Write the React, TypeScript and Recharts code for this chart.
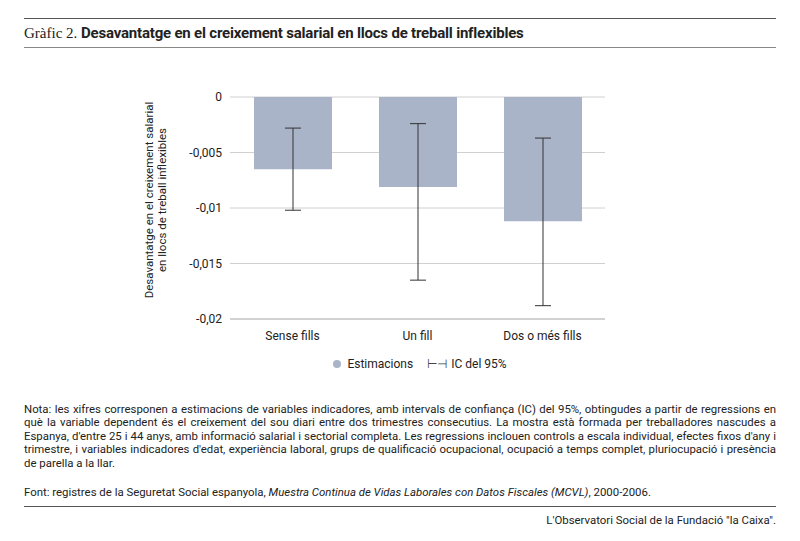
import React from "react";
import { BarChart, Bar, XAxis, YAxis, CartesianGrid, ErrorBar } from "recharts";

const categories = ["Sense fills", "Un fill", "Dos o més fills"];
const estimates = [-0.0065, -0.0081, -0.0112];
const ciLow = [-0.0102, -0.0165, -0.0188];
const ciHigh = [-0.0028, -0.0024, -0.0037];
const yTicks = [0, -0.005, -0.01, -0.015, -0.02];

const data = categories.map((c, i) => ({
  name: c,
  value: estimates[i],
  err: [estimates[i] - ciLow[i], ciHigh[i] - estimates[i]],
}));

const font = "Roboto, 'Liberation Sans', sans-serif";
const fmt = (v: number) => (v === 0 ? "0" : String(v).replace(".", ","));

const YLabel = () => (
  <text transform="translate(160,200) rotate(-90)" textAnchor="middle" fontSize={11.5} fill="#222" fontFamily={font}>
    <tspan x={0} dy={-7}>Desavantatge en el creixement salarial</tspan>
    <tspan x={0} dy={13}>en llocs de treball inflexibles</tspan>
  </text>
);

const App: React.FC = () => (
  <div style={{ position: "absolute", left: 0, top: 0, width: 800, height: 541, background: "#fff", fontFamily: font, color: "#222" }}>
    <div style={{ position: "absolute", left: 24, right: 24, top: 18, borderTop: "1.5px solid #555" }} />
    <div style={{ position: "absolute", left: 24, top: 24, fontSize: 15, whiteSpace: "nowrap" }}>
      <span style={{ fontFamily: "'Liberation Serif', serif" }}>Gràfic 2. </span>
      <b style={{ letterSpacing: -0.2 }}>Desavantatge en el creixement salarial en llocs de treball inflexibles</b>
    </div>
    <div style={{ position: "absolute", left: 24, right: 24, top: 47, borderTop: "1px solid #888" }} />
    <div style={{ position: "absolute", left: 0, top: 0 }}>
      <BarChart width={800} height={350} data={data} margin={{ top: 97, right: 195, bottom: 1, left: 0 }} barSize={78}>
        <CartesianGrid vertical={false} stroke="#d0d0d0" />
        <XAxis dataKey="name" axisLine={{ stroke: "#bbb" }} tickLine={false} tick={{ fontSize: 12, fill: "#222", fontFamily: font }} height={30} tickMargin={6} />
        <YAxis width={230} domain={[-0.02, 0]} ticks={yTicks} tickFormatter={fmt} axisLine={false} tickLine={false} tick={{ fontSize: 12, fill: "#222", fontFamily: font }} label={<YLabel />} />
        <Bar dataKey="value" fill="#aab4c8" isAnimationActive={false}>
          <ErrorBar dataKey="err" width={8} stroke="#333" strokeWidth={1} />
        </Bar>
      </BarChart>
    </div>
    <div style={{ position: "absolute", left: 0, width: 800, top: 357, display: "flex", justifyContent: "center", fontSize: 12, gap: 14, paddingLeft: 20 }}>
      <span><span style={{ display: "inline-block", width: 8, height: 8, borderRadius: 4, background: "#aab4c8", marginRight: 6 }} />Estimacions</span>
      <span><span style={{ color: "#444", marginRight: 4 }}>⊢⊣</span>IC del 95%</span>
    </div>
    <div style={{ position: "absolute", left: 24, right: 24, top: 403, fontSize: 11.4, lineHeight: "13.4px", textAlign: "justify" }}>
      Nota: les xifres corresponen a estimacions de variables indicadores, amb intervals de confiança (IC) del 95%, obtingudes a partir de regressions en què la variable dependent és el creixement del sou diari entre dos trimestres consecutius. La mostra està formada per treballadores nascudes a Espanya, d'entre 25 i 44 anys, amb informació salarial i sectorial completa. Les regressions inclouen controls a escala individual, efectes fixos d'any i trimestre, i variables indicadores d'edat, experiència laboral, grups de qualificació ocupacional, ocupació a temps complet, pluriocupació i presència de parella a la llar.
    </div>
    <div style={{ position: "absolute", left: 24, top: 485, fontSize: 11.4 }}>
      Font: registres de la Seguretat Social espanyola, <i>Muestra Continua de Vidas Laborales con Datos Fiscales (MCVL)</i>, 2000-2006.
    </div>
    <div style={{ position: "absolute", left: 24, right: 24, top: 506, borderTop: "1.5px solid #555" }} />
    <div style={{ position: "absolute", right: 24, top: 513, fontSize: 11.4 }}>L'Observatori Social de la Fundació "la Caixa".</div>
  </div>
);

export default App;
